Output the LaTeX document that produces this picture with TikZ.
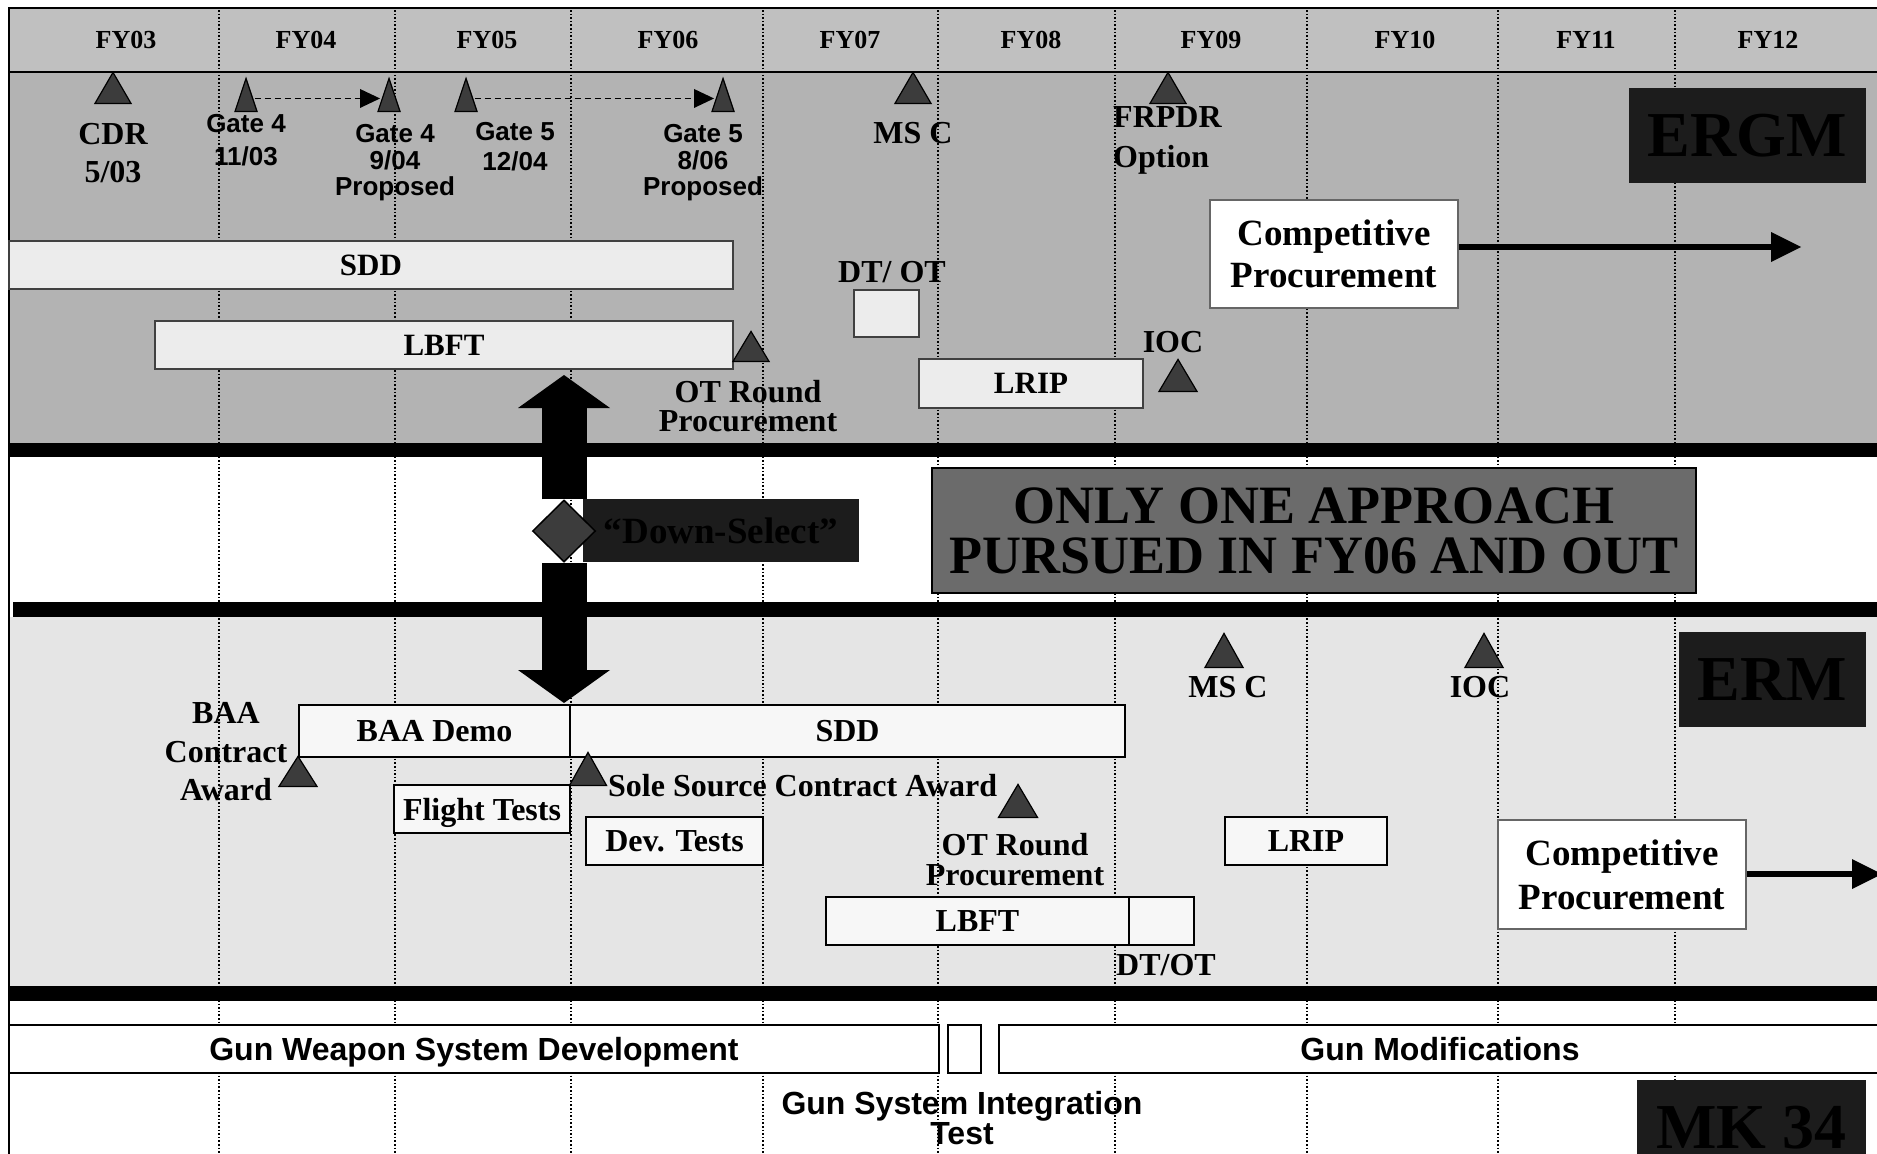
\documentclass[tikz,border=0pt]{standalone}
\usepackage{fontspec}
\setmainfont{Liberation Serif}
\newfontfamily\gatefont{Liberation Sans}
\usetikzlibrary{arrows.meta,positioning,shapes.geometric}
\definecolor{PlanHead}{HTML}{C0C0C0}
\definecolor{PlanErgm}{HTML}{B3B3B3}
\definecolor{PlanErm}{HTML}{E5E5E5}
\definecolor{PlanBarA}{HTML}{ECECEC}
\definecolor{PlanBarB}{HTML}{F7F7F7}
\definecolor{PlanMark}{HTML}{3C3C3C}
\definecolor{PlanTag}{HTML}{1C1C1C}
\definecolor{PlanNote}{HTML}{6B6B6B}
\tikzset{
  yearline/.style={line width=1.1pt, dash pattern=on 1.6pt off 2pt, draw=black},
  fylab/.style={font=\fontsize{26}{28}\selectfont\bfseries, inner sep=0pt},
  txt/.style={font=\fontsize{32}{38}\selectfont\bfseries, inner sep=0pt, align=center},
  gatetxt/.style={font=\gatefont\fontsize{26}{26.5}\selectfont\bfseries, inner sep=0pt, align=center},
  ms/.style={isosceles triangle, isosceles triangle stretches, shape border rotate=90,
             draw=black, fill=PlanMark, line width=1.2pt, inner sep=0pt, anchor=south,
             minimum width=36, minimum height=31},
  gate/.style={ms, minimum width=22, minimum height=33},
  ergmbar/.style={draw=black!75, fill=PlanBarA, line width=1.6pt, inner sep=0pt, text depth=0pt,
                  minimum height=48, font=\fontsize{31}{36}\selectfont\bfseries},
  ermbar/.style={draw=black, fill=PlanBarB, line width=2pt, inner sep=0pt, text depth=0pt,
                 minimum height=48, font=\fontsize{32}{36}\selectfont\bfseries},
  compbox/.style={draw=black!60, fill=white, line width=1.5pt, inner sep=0pt, align=center,
                  minimum width=248, minimum height=108, font=\fontsize{37}{42}\selectfont\bfseries},
  tagbox/.style={fill=PlanTag, text=black, inner sep=0pt, minimum height=95,
                 font=\fontsize{64}{64}\selectfont\bfseries},
  gunbox/.style={draw=black, fill=white, line width=2.5pt, inner sep=0pt, minimum height=48,
                 text depth=0pt, font=\gatefont\fontsize{32}{36}\selectfont\bfseries},
  gatelink/.style={dash pattern=on 6pt off 4pt, line width=1.5pt,
                   -{Triangle[length=20pt,width=19pt,line width=0pt]}},
  push/.style={line width=6pt, -{Triangle[length=30pt,width=30pt,line width=0pt]}},
  select/.style={line width=45pt, -{Triangle[length=33pt,width=92pt,line width=0pt]}},
}
\begin{document}
\begin{tikzpicture}[x=1pt,y=-1pt]
  \useasboundingbox (0,0) rectangle (1877,1154);
  \fill[PlanHead] (9,8) rectangle (1890,72);
  \fill[PlanErgm] (9,72) rectangle (1890,443);
  \fill[PlanErm] (9,617) rectangle (1890,986);
  \foreach \x in {219,395,571,763,938,1115,1307,1498,1675}
    \draw[yearline] (\x,10) -- (\x,1154);
  \fill[black] (9,443) rectangle (1890,457);
  \fill[black] (13,602) rectangle (1890,617);
  \fill[black] (9,986) rectangle (1890,1001);
  \draw[line width=2.5pt] (9,1160) -- (9,8) -- (1890,8);
  \draw[line width=2pt] (9,72) -- (1890,72);

  \foreach \yr/\x in {03/126,04/306,05/487,06/668,07/850,08/1031,09/1211,10/1405,11/1586,12/1768}
    \node[fylab] (fy\yr) at (\x,40) {FY\yr};

  % ERGM
  \node[ergmbar, minimum width=724] (sddA) at (371,265) {SDD};
  \node[ergmbar, minimum width=578] (lbftA) at (444,345) {LBFT};
  \node[ergmbar, minimum width=65, minimum height=47] (dtotA) at (886.5,313.5) {};
  \node[ergmbar, minimum width=224, minimum height=49] (lripA) at (1031,383.5) {LRIP};
  \node[txt] (dtotAtxt) at (892,272) {DT/ OT};

  \node[ms] (cdr) at (113,104) {};
  \node[txt, below=19pt of cdr] (cdrtxt) {CDR\\5/03};
  \node[gate] (g4a) at (246,112) {};
  \node[gate] (g4b) at (389,112) {};
  \node[gate] (g5a) at (466,112) {};
  \node[gate] (g5b) at (723,112) {};
  \draw[gatelink] ([yshift=5pt]g4a.east) -- ([yshift=5pt]g4b.west);
  \draw[gatelink] ([yshift=5pt]g5a.east) -- ([yshift=5pt]g5b.west);
  \node[gatetxt, font=\gatefont\fontsize{26}{33}\selectfont\bfseries] (g4atxt) at (246,140) {Gate 4\\11/03};
  \node[gatetxt] (g4btxt) at (395,163) {Gate 4\\9/04\\Proposed};
  \node[gatetxt, font=\gatefont\fontsize{26}{30}\selectfont\bfseries] (g5atxt) at (515,147) {Gate 5\\12/04};
  \node[gatetxt] (g5btxt) at (703,163) {Gate 5\\8/06\\Proposed};
  \node[ms] (mscA) at (913,104) {};
  \node[txt] (mscAtxt) at (913,133) {MS C};
  \node[ms] (frpdr) at (1168,104) {};
  \node[txt, font=\fontsize{32}{40}\selectfont\bfseries, align=left, anchor=west] (frpdrtxt) at (1113,140) {FRPDR\\Option};
  \node[ms, minimum height=30] (otA) at (751,362) {};
  \node[txt, font=\fontsize{32}{29}\selectfont\bfseries] (otAtxt) at (748,406) {OT Round\\Procurement};
  \node[ms, minimum width=38, minimum height=32] (iocA) at (1178,392) {};
  \node[txt] (iocAtxt) at (1173,342) {IOC};
  \node[tagbox, minimum width=237] (ergm) at (1747.5,135.5) {ERGM};
  \node[compbox] (compA) at (1334,254) {Competitive\\Procurement};
  \coordinate (compAend) at (1801,247);
  \draw[push] (compA.east |- compAend) -- (compAend);

  % down-select
  \coordinate (seltop) at (564,375);
  \coordinate (selbot) at (564,703);
  \node[fill=PlanTag, text=black, inner sep=0pt, minimum width=276, minimum height=63,
        font=\fontsize{37}{40}\selectfont\bfseries] (seltxt) at (721,530.5) {``Down-Select''};
  \node[diamond, draw=black, fill=PlanMark, line width=1.5pt, inner sep=0pt,
        minimum width=63, minimum height=62] (dsel) at (564,531) {};
  \draw[select] (dsel.north) -- (seltop);
  \draw[select] (dsel.south) -- (selbot);
  \node[draw=black, line width=2.5pt, fill=PlanNote, inner sep=0pt, align=center,
        minimum width=764, minimum height=125,
        font=\fontsize{54}{50}\selectfont\bfseries] (onlyone) at (1314,530.5)
        {ONLY ONE APPROACH\\PURSUED IN FY06 AND OUT};

  % ERM
  \node[ermbar, minimum width=271, minimum height=52] (baademo) at (434.5,731) {BAA Demo};
  \node[ermbar, minimum width=555, minimum height=52] (sddB) at (847.5,731) {SDD};
  \node[ermbar, minimum width=176] (flight) at (482,809) {Flight Tests};
  \node[ermbar, minimum width=177] (devtest) at (674.5,841) {Dev. Tests};
  \node[ermbar, minimum width=162] (lripB) at (1306,841) {LRIP};
  \node[ermbar, minimum width=303] (lbftB) at (977.5,921) {LBFT};
  \node[ermbar, minimum width=65] (dtotB) at (1161.5,921) {};
  \node[txt] (dtotBtxt) at (1166,965) {DT/OT};
  \node[ms, minimum width=38, minimum height=30] (baa) at (298,787) {};
  \node[txt, font=\fontsize{32}{38.5}\selectfont\bfseries] (baatxt) at (226,752) {BAA\\Contract\\Award};
  \node[ms, minimum width=37, minimum height=33] (sole) at (588,786) {};
  \node[txt, anchor=west] (soletxt) at (608,786) {Sole Source Contract Award};
  \node[ms, minimum width=39, minimum height=33] (otB) at (1018,818) {};
  \node[txt, font=\fontsize{32}{30}\selectfont\bfseries] (otBtxt) at (1015,860) {OT Round\\Procurement};
  \node[ms, minimum width=38, minimum height=34] (mscB) at (1224,668) {};
  \node[txt] (mscBtxt) at (1228,687) {MS C};
  \node[ms, minimum width=38, minimum height=34] (iocB) at (1484,668) {};
  \node[txt] (iocBtxt) at (1480,687) {IOC};
  \node[tagbox, minimum width=187] (erm) at (1772.5,679.5) {ERM};
  \node[compbox, minimum height=109, font=\fontsize{37}{44}\selectfont\bfseries] (compB) at (1622,874.5) {Competitive\\Procurement};
  \coordinate (compBend) at (1882,874);
  \draw[push] (compB.east |- compBend) -- (compBend);

  % MK 34
  \node[gunbox, minimum width=930] (gwsd) at (474,1049) {Gun Weapon System Development};
  \node[gunbox, minimum width=33] (gsit) at (964.5,1049) {};
  \node[gunbox, minimum width=882] (gmod) at (1440,1049) {Gun Modifications};
  \node[txt, font=\gatefont\fontsize{32}{30}\selectfont\bfseries] (gsittxt) at (962,1118) {Gun System Integration\\Test};
  \node[tagbox, minimum width=229] (mk34) at (1751.5,1127.5) {MK 34};
\end{tikzpicture}
\end{document}
